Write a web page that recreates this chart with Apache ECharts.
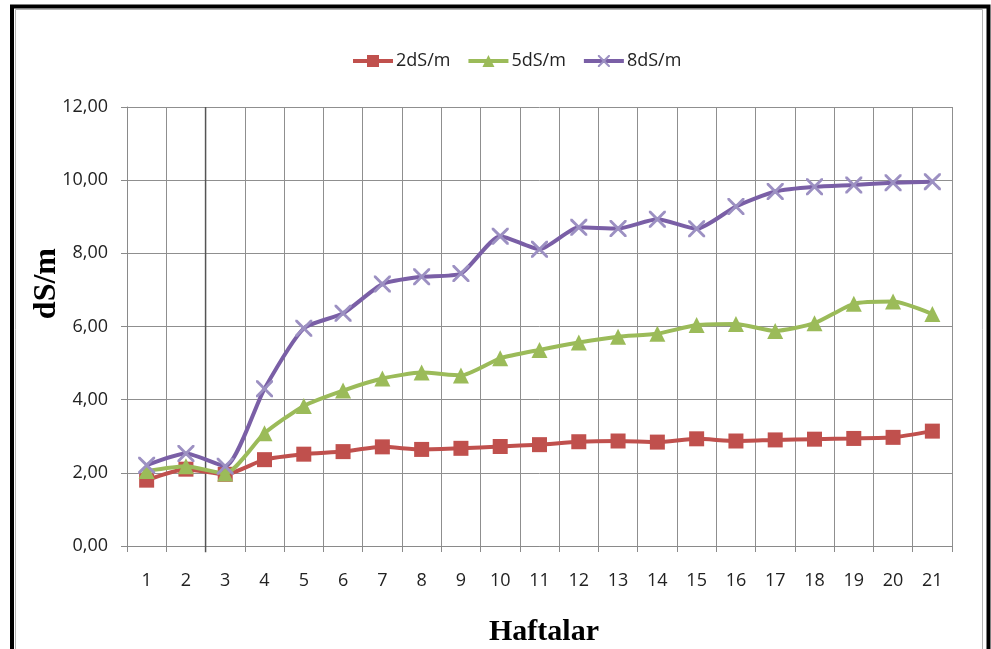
<!DOCTYPE html>
<html>
<head>
<meta charset="utf-8">
<script src="https://cdn.jsdelivr.net/npm/echarts@6/dist/echarts.min.js"></script>
<style>
  html, body { margin: 0; padding: 0; background: #fff; overflow: hidden; }
  #chart { width: 991px; height: 649px; }
</style>
</head>
<body>
<div id="chart"></div>
<script>
// Weeks (Haftalar) and EC readings (dS/m) for the three salinity treatments
const weeks = ['1','2','3','4','5','6','7','8','9','10','11','12','13','14','15','16','17','18','19','20','21'];
const ec2 = [1.80, 2.10, 1.96, 2.36, 2.51, 2.58, 2.71, 2.64, 2.67, 2.72, 2.77, 2.85, 2.87, 2.84, 2.93, 2.87, 2.90, 2.92, 2.94, 2.97, 3.14];
const ec5 = [2.05, 2.18, 1.98, 3.08, 3.83, 4.25, 4.58, 4.74, 4.66, 5.13, 5.36, 5.56, 5.72, 5.80, 6.04, 6.07, 5.88, 6.09, 6.62, 6.68, 6.34];
const ec8 = [2.21, 2.53, 2.18, 4.30, 5.95, 6.36, 7.16, 7.36, 7.45, 8.47, 8.11, 8.71, 8.68, 8.93, 8.67, 9.28, 9.69, 9.82, 9.87, 9.93, 9.96];
const seriesNames = ['2dS/m', '5dS/m', '8dS/m'];
const yTicks = { min: 0, max: 12, step: 2 };
// darker separator between weeks 2 and 3 (position on the week scale, and its vertical extent)
const separatorWeek = 2.5;
const separatorRange = [-0.17, 12];

const crossPath = 'path://M0,0L1.2,0L5,3.8L8.8,0L10,0L10,1.2L6.2,5L10,8.8L10,10L8.8,10L5,6.2L1.2,10L0,10L0,8.8L3.8,5L0,1.2Z';
const labelFont = "'Open Sans', 'Liberation Sans', sans-serif";
const titleFont = "'Liberation Serif', 'DejaVu Serif', serif";

const chart = echarts.init(document.getElementById('chart'), null, { renderer: 'canvas' });

chart.setOption({
  backgroundColor: '#ffffff',
  animation: false,
  graphic: [
    { type: 'rect', shape: { x: 12, y: 6.5, width: 976.5, height: 660 }, style: { fill: 'none', stroke: '#000', lineWidth: 4 }, silent: true },
    { type: 'rect', shape: { x: 15.5, y: 9.5, width: 967, height: 660 }, style: { fill: 'none', stroke: '#b4b4b4', lineWidth: 1 }, silent: true },
    {
      // y axis title
      type: 'text', left: 31, top: 248, rotation: Math.PI / 2, silent: true,
      style: { text: 'dS/m', font: "bold 32px 'Liberation Serif', serif", fill: '#000' }
    }
  ],
  legend: {
    top: 47,
    left: 346,
    itemGap: 16,
    itemWidth: 40,
    itemHeight: 15,
    lineStyle: { width: 4 },
    textStyle: { fontFamily: labelFont, fontSize: 18, color: '#222', padding: [0, 0, 0, -2] },
    data: seriesNames
  },
  grid: { left: 127, right: 39, top: 107, bottom: 103, containLabel: false, outerBoundsMode: 'none' },
  xAxis: [
    {
      type: 'category',
      data: weeks,
      boundaryGap: true,
      name: 'Haftalar',
      nameLocation: 'middle',
      nameGap: 71,
      nameTextStyle: { fontFamily: titleFont, fontWeight: 'bold', fontSize: 30, color: '#000', padding: [0, 0, 0, 9] },
      axisLine: { lineStyle: { color: '#8a8a8a', width: 1 } },
      axisTick: { show: true, length: 6, alignWithLabel: false, lineStyle: { color: '#8a8a8a' } },
      axisLabel: { fontFamily: labelFont, fontSize: 18, color: '#222', margin: 26 },
      splitLine: { show: true, lineStyle: { color: '#8f8f8f', width: 1 } }
    },
    {
      type: 'value',
      min: 0.5,
      max: 21.5,
      show: false
    }
  ],
  yAxis: {
    type: 'value',
    min: yTicks.min,
    max: yTicks.max,
    interval: yTicks.step,
    axisLine: { show: true, lineStyle: { color: '#8a8a8a', width: 1 } },
    axisTick: { show: true, length: 6, inside: false, lineStyle: { color: '#8a8a8a' } },
    axisLabel: {
      fontFamily: labelFont, fontSize: 18, color: '#222', margin: 19,
      formatter: v => v.toFixed(2).replace('.', ',')
    },
    splitLine: { show: true, lineStyle: { color: '#8f8f8f', width: 1 } }
  },
  series: [
    {
      // separator drawn as a plain two-point line on the hidden value x axis
      type: 'line',
      xAxisIndex: 1,
      data: separatorRange.map(v => [separatorWeek, v]),
      symbol: 'none',
      silent: true,
      clip: false,
      lineStyle: { color: '#555', width: 1.5 },
      z: 1
    },
    {
      name: seriesNames[0],
      type: 'line',
      data: ec2,
      smooth: 0.2,
      symbol: 'rect',
      symbolSize: 15,
      lineStyle: { color: '#C0504D', width: 4 },
      itemStyle: { color: '#C0504D' },
      z: 3
    },
    {
      name: seriesNames[1],
      type: 'line',
      data: ec5,
      smooth: 0.2,
      symbol: 'triangle',
      symbolSize: 16,
      lineStyle: { color: '#9BBB59', width: 4 },
      itemStyle: { color: '#9BBB59' },
      z: 4
    },
    {
      name: seriesNames[2],
      type: 'line',
      data: ec8,
      smooth: 0.2,
      symbol: crossPath,
      symbolSize: 17,
      lineStyle: { color: '#7A5FA6', width: 4 },
      itemStyle: { color: '#9C90C2' },
      z: 5
    }
  ]
});
</script>
</body>
</html>
